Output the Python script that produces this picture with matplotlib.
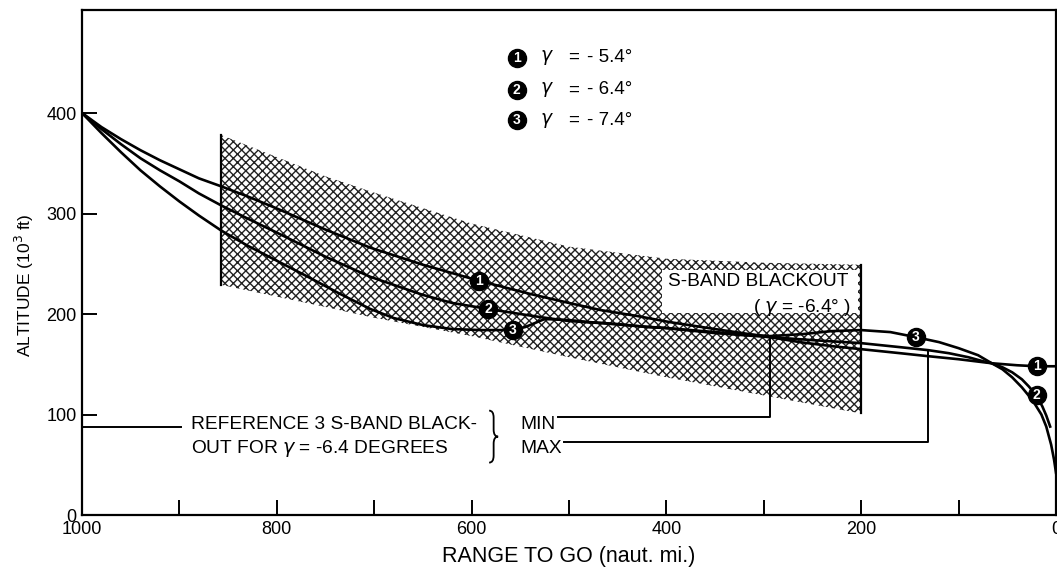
import numpy as np
import matplotlib
matplotlib.use("Agg")
import matplotlib.pyplot as plt
from matplotlib.patches import Rectangle, PathPatch
from matplotlib.path import Path
from matplotlib.transforms import IdentityTransform

plt.rcParams['font.family'] = ['Liberation Sans', 'DejaVu Sans']
plt.rcParams['hatch.linewidth'] = 1.0
plt.rcParams['hatch.color'] = '#222222'

# trajectories: range to go (naut. mi.) vs altitude (10^3 ft)
r1 = [1000, 980, 960, 940, 920, 900, 880, 857, 830, 800, 750, 704, 650, 592, 540, 500, 468,
      430, 397, 350, 294, 263, 230, 200, 160, 131, 100, 66, 40, 20, 0]
h1 = [400, 386, 374, 363, 353, 344, 335, 327, 317, 305, 284, 266, 249, 233, 220, 211, 204,
      198, 192, 185, 177, 172, 168, 165, 161, 158, 155, 151, 149, 148, 148]

r2 = [1000, 980, 960, 940, 920, 900, 880, 857, 830, 800, 750, 704, 650, 620, 583, 550, 530,
      500, 468, 430, 400, 350, 294, 250, 200, 160, 131, 110, 90, 75, 66, 55, 45, 35, 28, 20,
      14, 10, 6]
h2 = [400, 384, 369, 355, 343, 332, 320, 308, 295, 281, 257, 237, 219, 211, 205, 200, 197,
      193, 191, 188, 186, 181, 177, 174, 171, 167, 164, 161, 157, 153, 151, 147, 142, 135, 128, 119,
      108, 99, 88]

r3 = [1000, 980, 960, 940, 920, 900, 880, 857, 830, 800, 770, 735, 704, 680, 650, 620, 590,
      558, 545, 535, 525, 500, 480, 450, 420, 400, 350, 294, 260, 230, 200, 170, 144, 120, 100,
      80, 66, 55, 45, 35, 24, 15, 10, 5, 2, 0]
h3 = [400, 380, 361, 343, 327, 312, 298, 283, 268, 253, 238, 220, 205, 196, 189, 185, 184,
      184, 187, 191, 195, 194, 192, 190, 187, 186, 182, 178, 180, 183, 184, 182, 177, 172, 166,
      159, 151, 145, 137, 127, 114, 100, 88, 70, 55, 42]

# S-band blackout region (gamma = -6.4 deg)
band_r = [857, 750, 704, 600, 500, 400, 300, 200]
band_top = [378, 337, 322, 290, 267, 255, 251, 249]
band_bot = [229, 207, 197, 178, 157, 137, 119, 101]

# numbered labels on curves
lab_num = ['1', '2', '3', '3', '1', '2']
lab_r = [592, 583, 558, 144, 20, 20]
lab_h = [233, 205, 184, 177, 148, 119]

legend_num = ['1', '2', '3']
legend_val = ['- 5.4°', '- 6.4°', '- 7.4°']
legend_h = [455, 423, 393]

ref_min = (294, 177, 98)
ref_max = (131.5, 164, 73)

fig = plt.figure(figsize=(10.57, 5.71), dpi=100)
ax = fig.add_axes([82/1057, 1-515/571, (1056-82)/1057, (515-10)/571])
ax.set_xlim(1000, 0)
ax.set_ylim(0, 502.5)

ax.fill_between(band_r, band_bot, band_top, facecolor='white', edgecolor='#222222',
                hatch='xxxx', linewidth=0, zorder=1)
ax.plot([band_r[0]]*2, [band_bot[0], band_top[0]], color='black', lw=1.6, zorder=2)
ax.plot([band_r[-1]]*2, [band_bot[-1], band_top[-1]], color='black', lw=1.6, zorder=2)
ax.add_patch(Rectangle((203.7, 201), 201, 43, facecolor='white', edgecolor='none', zorder=2))
ax.text(213, 232, 'S-BAND BLACKOUT', ha='right', va='center', fontsize=13.8, zorder=3)
ax.text(211, 206, r'( $\gamma$ = -6.4° )', ha='right', va='center', fontsize=13.8, zorder=3)

for r, h in [(r1, h1), (r2, h2), (r3, h3)]:
    ax.plot(r, h, color='black', lw=1.9, zorder=4)

for n, r, h in zip(lab_num, lab_r, lab_h):
    ax.plot(r, h, 'o', ms=13, color='black', zorder=5)
    ax.text(r, h, n, color='white', ha='center', va='center', fontsize=10,
            fontweight='bold', zorder=6)

for n, h, v in zip(legend_num, legend_h, legend_val):
    ax.plot(553.6, h, 'o', ms=13, color='black', clip_on=False)
    ax.text(553.6, h, n, color='white', ha='center', va='center', fontsize=10, fontweight='bold')
    ax.text(530, h, r'$\gamma$', ha='left', va='center', fontsize=13.5)
    ax.text(501, h, '=', ha='left', va='center', fontsize=13.5)
    ax.text(482, h, v, ha='left', va='center', fontsize=13.5)

# reference min / max blackout
ax.plot([ref_min[0], ref_min[0], 511], [ref_min[1], ref_min[2], ref_min[2]], color='black', lw=1.4, zorder=3)
ax.plot([ref_max[0], ref_max[0], 505], [ref_max[1], ref_max[2], ref_max[2]], color='black', lw=1.4, zorder=3)
ax.plot([1000, 898], [88, 88], color='black', lw=1.4)
ax.text(888, 90, 'REFERENCE 3 S-BAND BLACK-', ha='left', va='center', fontsize=13.8)
ax.text(888, 66, r'OUT FOR $\gamma$ = -6.4 DEGREES', ha='left', va='center', fontsize=13.8)
ax.text(550, 90, 'MIN', ha='left', va='center', fontsize=13.8)
ax.text(550, 66, 'MAX', ha='left', va='center', fontsize=13.8)

# curly brace between the two text lines and MIN / MAX
fig.canvas.draw()
bx, by = ax.transData.transform((582, 78))
bh, bw = 26, 9
verts = [(bx, by + bh), (bx + bw/2, by + bh), (bx + bw/2, by + bh - 7),
         (bx + bw/2, by + 7), (bx + bw/2, by), (bx + bw, by),
         (bx + bw/2, by), (bx + bw/2, by - 7),
         (bx + bw/2, by - bh + 7), (bx + bw/2, by - bh), (bx, by - bh)]
codes = [Path.MOVETO, Path.CURVE3, Path.CURVE3, Path.LINETO, Path.CURVE3, Path.CURVE3,
         Path.CURVE3, Path.CURVE3, Path.LINETO, Path.CURVE3, Path.CURVE3]
fig.add_artist(PathPatch(Path(verts, codes), transform=IdentityTransform(),
                         facecolor='none', edgecolor='black', lw=1.3))

ax.set_xticks(range(0, 1001, 100))
ax.set_xticklabels([str(v) if v % 200 == 0 else '' for v in range(0, 1001, 100)])
ax.set_yticks([0, 100, 200, 300, 400])
ax.tick_params(direction='in', length=11, width=1.4, labelsize=13, pad=4)
for s in ax.spines.values():
    s.set_linewidth(1.6)

ax.set_xlabel('RANGE TO GO (naut. mi.)', fontsize=15.5, labelpad=6)
ax.set_ylabel('ALTITUDE (10$^3$ ft)', fontsize=12.5)
ax.yaxis.set_label_coords(-0.047, 0.455)

fig.savefig('out.png', dpi=100)
